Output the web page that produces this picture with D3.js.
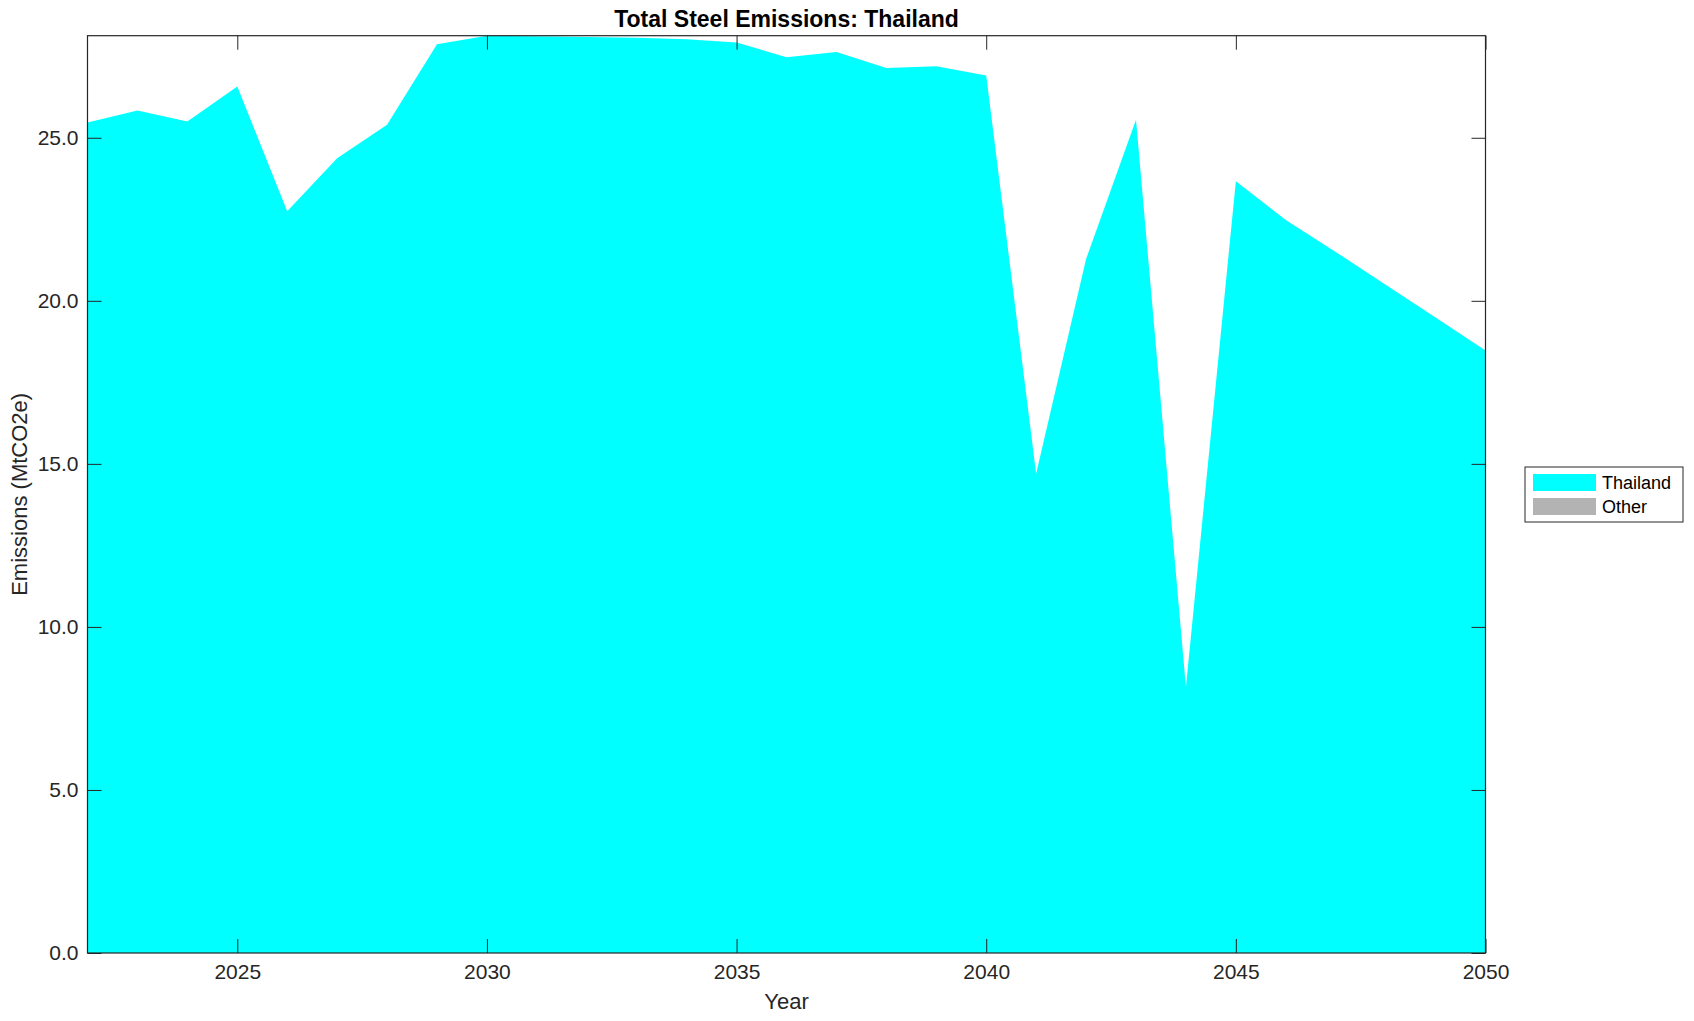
<!DOCTYPE html>
<html>
<head>
<meta charset="utf-8">
<script src="https://cdn.jsdelivr.net/npm/d3@7"></script>
<style>
  body { margin: 0; background: #fff; }
  svg { font-family: "Liberation Sans", Arial, Helvetica, sans-serif; }
</style>
</head>
<body>
<script>
const width = 1694;
const height = 1021;

const years = d3.range(2022, 2051);
const thailand = [25.47, 25.84, 25.50, 26.57, 22.75, 24.37, 25.40, 27.87, 28.13, 28.11,
    28.09, 28.07, 28.02, 27.92, 27.47, 27.63, 27.14, 27.19, 26.91, 14.70,
    21.28, 25.55, 8.15, 23.67, 22.48, 21.50, 20.49, 19.49, 18.48];
const other = years.map(() => 0);
const seriesNames = ["Thailand", "Other"];
const seriesColors = ["#00ffff", "#b3b3b3"];
const yTicks = [0, 5, 10, 15, 20, 25];
const xTicks = [2025, 2030, 2035, 2040, 2045, 2050];

const margin = {left: 87.5, right: 1694 - 1485.5, top: 35.7, bottom: 1021 - 953};
const innerW = width - margin.left - margin.right;
const innerH = height - margin.top - margin.bottom;
const ink = "#262626";

const svg = d3.select("body").append("svg")
    .attr("width", width)
    .attr("height", height);

const table = years.map((y, i) => ({year: y, Thailand: thailand[i], Other: other[i]}));
const stacked = d3.stack().keys(seriesNames)(table);

const x = d3.scaleLinear().domain([2022, 2050]).range([0, innerW]);
const y = d3.scaleLinear()
    .domain([0, d3.max(stacked[stacked.length - 1], d => d[1])])
    .range([innerH, 0]);

const g = svg.append("g").attr("transform", `translate(${margin.left},${margin.top})`);

const area = d3.area()
    .x(d => x(d.data.year))
    .y0(d => y(d[0]))
    .y1(d => y(d[1]));

g.selectAll("path.area")
    .data(stacked)
    .enter()
    .append("path")
    .attr("class", "area")
    .attr("d", area)
    .style("fill", (d, i) => seriesColors[i]);

// axes, MATLAB style: ticks inward on all four sides
const tickLen = 14;
const bottomAxis = d3.axisBottom(x).tickValues(xTicks).tickFormat(d3.format("d"))
    .tickSizeInner(-tickLen).tickSizeOuter(0).tickPadding(11);
const topAxis = d3.axisTop(x).tickValues(xTicks).tickFormat("")
    .tickSizeInner(-tickLen).tickSizeOuter(0);
const leftAxis = d3.axisLeft(y).tickValues(yTicks).tickFormat(d3.format(".1f"))
    .tickSizeInner(-tickLen).tickSizeOuter(0).tickPadding(9);
const rightAxis = d3.axisRight(y).tickValues(yTicks).tickFormat("")
    .tickSizeInner(-tickLen).tickSizeOuter(0);

const axes = [
    [bottomAxis, `translate(0,${innerH})`],
    [topAxis, "translate(0,0)"],
    [leftAxis, "translate(0,0)"],
    [rightAxis, `translate(${innerW},0)`]
];
axes.forEach(([ax, tr]) => {
    const a = g.append("g").attr("transform", tr).call(ax);
    a.select(".domain").remove();
    a.selectAll("line").attr("stroke", ink).attr("stroke-width", 1);
    a.selectAll("text").attr("fill", ink).style("font-size", "21px");
});

g.append("rect")
    .attr("width", innerW)
    .attr("height", innerH)
    .attr("fill", "none")
    .attr("stroke", ink)
    .attr("stroke-width", 1.2);

svg.append("text")
    .attr("x", margin.left + innerW / 2)
    .attr("y", 27)
    .attr("text-anchor", "middle")
    .style("font-size", "23px")
    .style("font-weight", "bold")
    .attr("fill", "#000")
    .text("Total Steel Emissions: Thailand");

svg.append("text")
    .attr("x", margin.left + innerW / 2)
    .attr("y", 1009)
    .attr("text-anchor", "middle")
    .style("font-size", "22px")
    .attr("fill", ink)
    .text("Year");

svg.append("text")
    .attr("transform", `translate(27,${margin.top + innerH / 2}) rotate(-90)`)
    .attr("text-anchor", "middle")
    .style("font-size", "22px")
    .attr("fill", ink)
    .text("Emissions (MtCO2e)");

// legend
const legend = svg.append("g").attr("transform", "translate(1525,467)");
legend.append("rect")
    .attr("width", 158)
    .attr("height", 55)
    .attr("fill", "#fff")
    .attr("stroke", ink)
    .attr("stroke-width", 1);
seriesNames.forEach((name, i) => {
    legend.append("rect")
        .attr("x", 8)
        .attr("y", 7 + i * 24)
        .attr("width", 63)
        .attr("height", 17)
        .attr("fill", seriesColors[i]);
    legend.append("text")
        .attr("x", 77)
        .attr("y", 16 + i * 24)
        .attr("dy", "0.35em")
        .style("font-size", "18px")
        .attr("fill", "#000")
        .text(name);
});
</script>
</body>
</html>
